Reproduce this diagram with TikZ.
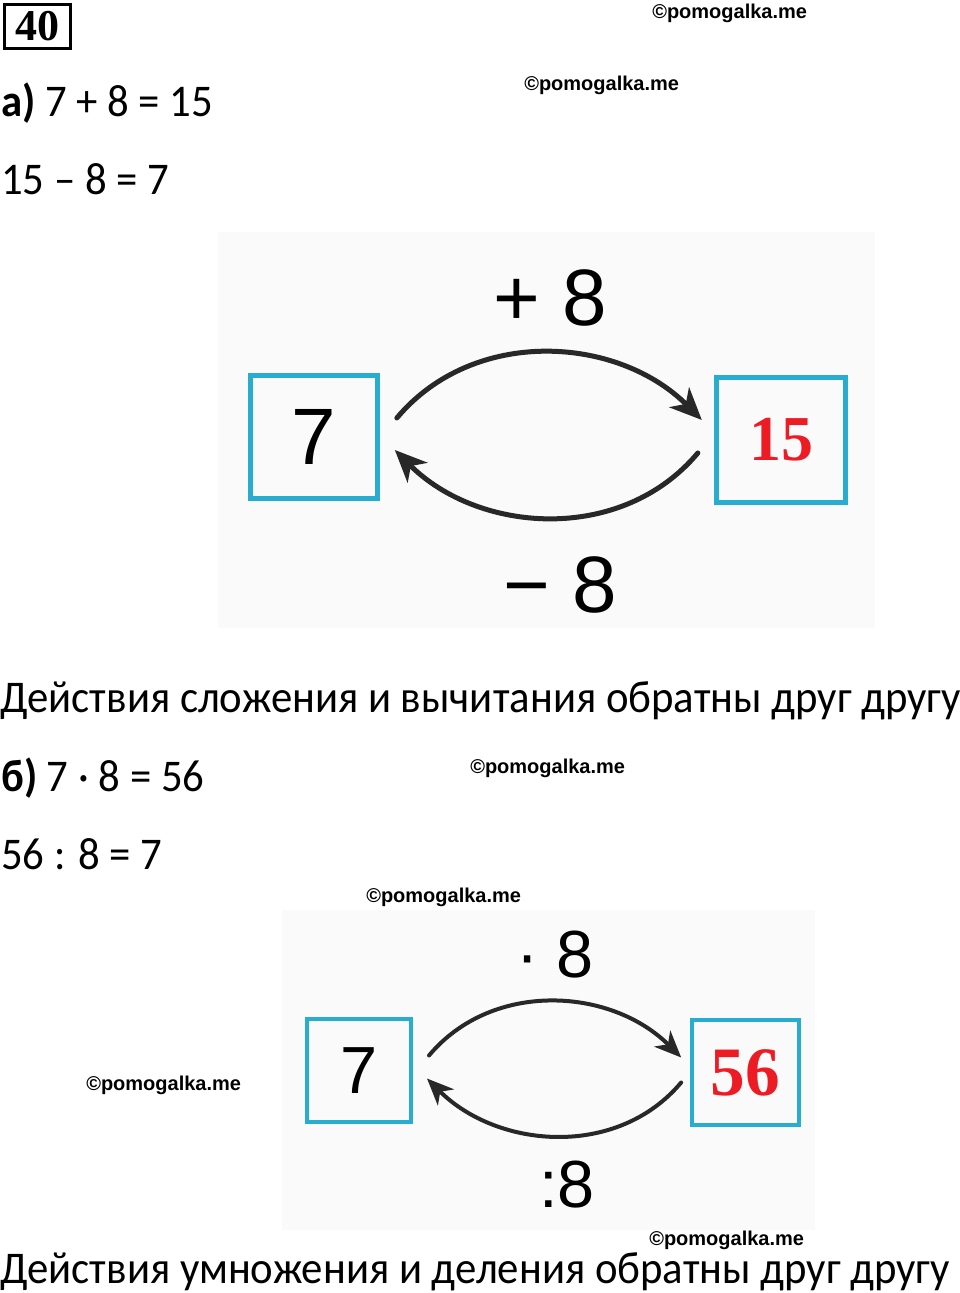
\documentclass[tikz,border=0pt]{standalone}
\usepackage{fontspec}
\setmainfont{Carlito}[FakeStretch=0.943]
\newfontfamily\digitfont{Liberation Sans}
\newfontfamily\redfont{Liberation Serif}
\newfontfamily\markfont{Liberation Sans}
\usetikzlibrary{arrows.meta}
\definecolor{boxblue}{RGB}{40,172,208}
\definecolor{numred}{RGB}{237,28,36}
\definecolor{arrowgray}{RGB}{40,40,40}
\definecolor{picbg}{RGB}{250,250,250}
\tikzset{
  numbox/.style={draw=boxblue, line width=3.75pt, minimum width=95pt, minimum height=92pt, inner sep=0pt},
  smallbox/.style={numbox, line width=3pt, minimum width=78pt, minimum height=77pt},
  arr/.style={draw=arrowgray, line width=3.75pt, line cap=round, -{Stealth[length=24pt,width=21pt,inset=7pt]}},
  smallarr/.style={arr, line width=3pt, -{Stealth[length=20pt,width=17pt,inset=6pt]}},
  textline/.style={anchor=base west, inner sep=0pt, font=\fontsize{34}{40}\selectfont},
  wm/.style={anchor=west, inner sep=0pt, font=\markfont\bfseries\fontsize{15}{18}\selectfont},
}
\begin{document}
\begin{tikzpicture}[x=0.75pt, y=0.75pt]
        \useasboundingbox (0,0) rectangle (960,1293);
        \fill[picbg] (218,665) rectangle (875,1061);
        \fill[picbg] (282,63) rectangle (815,383);

        \node[draw, line width=2.25pt, minimum width=49.5pt, minimum height=33pt, inner sep=0pt,
              font=\redfont\bfseries\fontsize{33}{33}\selectfont] (num) at (37.5,1266.5) {40};

        \node[wm] (wm1) at (652,1280) {©pomogalka.me};
        \node[wm] (wm2) at (524,1208) {©pomogalka.me};
        \node[wm] (wm3) at (470,525) {©pomogalka.me};
        \node[wm] (wm4) at (366,396) {©pomogalka.me};
        \node[wm] (wm5) at (86,208) {©pomogalka.me};
        \node[wm] (wm6) at (649,53) {©pomogalka.me};

        % part a
        \node[textline] (eqa1) at (1,1176) {\textbf{а)} 7 + 8 = 15};
        \node[textline] (eqa2) at (1,1098) {15 – 8 = 7};

        \node[numbox, font=\digitfont\fontsize{60}{60}\selectfont] (seven) at (314,856) {7};
        \node[numbox, minimum width=97pt, minimum height=94pt, text=numred,
              font=\redfont\bfseries\fontsize{48}{48}\selectfont] (fifteen) at (781,853) {15};
        \node[font=\digitfont\fontsize{60}{60}\selectfont] (plus) at (550,995) {+ 8};
        \node[font=\digitfont\fontsize{60}{60}\selectfont] (minus) at (560,708) {− 8};

        \draw[arr] ([shift={(17,19)}]seven.east) to[out=50, in=135] ([shift={(-12,20)}]fifteen.west);
        \draw[arr] ([shift={(-16,-13)}]fifteen.west) to[out=-130, in=-45] ([shift={(15,-13)}]seven.east);

        \node[textline] (rulea) at (0,580) {Действия сложения и вычитания обратны друг другу};

        % part b
        \node[textline] (eqb1) at (1,501) {\textbf{б)} 7 · 8 = 56};
        \node[textline] (eqb2) at (1,423) {56 : 8 = 7};

        \node[smallbox, font=\digitfont\fontsize{50}{50}\selectfont] (seven2) at (359,222.5) {7};
        \node[smallbox, minimum width=80pt, minimum height=79pt, text=numred,
              font=\redfont\bfseries\fontsize{52}{52}\selectfont] (fiftysix) at (745.5,220.5) {56};
        \node[font=\digitfont\fontsize{50}{50}\selectfont] (times) at (555,338) {· 8};
        \node[font=\digitfont\fontsize{50}{50}\selectfont] (divide) at (567,108) {:8};

        \draw[smallarr] ([shift={(16,15)}]seven2.east) to[out=50, in=135] ([shift={(-9,15)}]fiftysix.west);
        \draw[smallarr] ([shift={(-9,-10)}]fiftysix.west) to[out=-130, in=-45] ([shift={(14,-8)}]seven2.east);

        \node[textline] (ruleb) at (0,10) {Действия умножения и деления обратны друг другу};
    \end{tikzpicture}
\end{document}
